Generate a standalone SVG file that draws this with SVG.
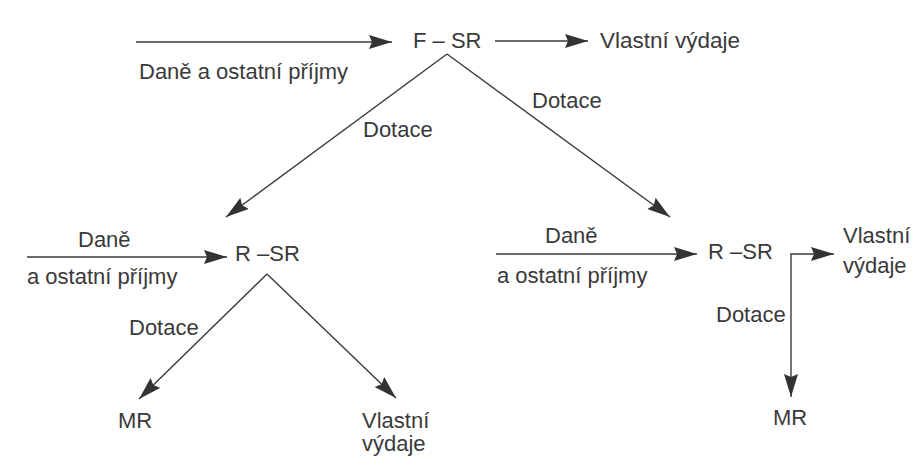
<svg xmlns="http://www.w3.org/2000/svg" width="916" height="457" viewBox="0 0 916 457">
  <defs>
    <marker id="arr" markerUnits="userSpaceOnUse" markerWidth="26" markerHeight="16" refX="23" refY="7" orient="auto">
      <path d="M0,0 L23,7 L0,14 L3,7 Z" fill="#333"/>
    </marker>
    <style>
      text { font-family: "Liberation Sans", Arial, Helvetica, sans-serif; font-size: 22px; fill: #3a3a3a; }
      .c { fill: none; stroke: #3a3a3a; stroke-width: 1.4; marker-end: url(#arr); }
    </style>
  </defs>
  <rect width="916" height="457" fill="#ffffff"/>

  <g id="connectors">
    <line class="c" x1="136" y1="42" x2="392" y2="42"/>
    <line class="c" x1="495" y1="41" x2="588" y2="41"/>
    <line class="c" x1="447" y1="54" x2="226" y2="217"/>
    <line class="c" x1="447" y1="54" x2="670" y2="217"/>
    <line class="c" x1="27" y1="257" x2="227" y2="257"/>
    <line class="c" x1="267" y1="274" x2="139" y2="399"/>
    <line class="c" x1="267" y1="274" x2="396" y2="398"/>
    <line class="c" x1="496" y1="254" x2="697" y2="254"/>
    <line class="c" x1="791" y1="254" x2="791" y2="397"/>
    <line class="c" x1="790.3" y1="254" x2="834" y2="254"/>
    <text x="139" y="79">Daně a ostatní příjmy</text>
    <text x="363" y="137">Dotace</text>
    <text x="532" y="108">Dotace</text>
    <text x="78" y="247">Daně</text>
    <text x="27" y="284">a ostatní příjmy</text>
    <text x="129" y="335">Dotace</text>
    <text x="545" y="243">Daně</text>
    <text x="497" y="283">a ostatní příjmy</text>
    <text x="716" y="322">Dotace</text>
  </g>

  <g id="node-fsr"><text x="413" y="48">F – SR</text></g>
  <g id="node-fsr-vydaje"><text x="600" y="48" textLength="140" lengthAdjust="spacingAndGlyphs">Vlastní výdaje</text></g>
  <g id="node-rsr-left"><text x="235" y="261">R –SR</text></g>
  <g id="node-mr-left"><text x="118" y="428">MR</text></g>
  <g id="node-vydaje-left"><text x="362" y="428">Vlastní</text><text x="362" y="451">výdaje</text></g>
  <g id="node-rsr-right"><text x="708" y="259">R –SR</text></g>
  <g id="node-vydaje-right"><text x="843" y="243">Vlastní</text><text x="843" y="273">výdaje</text></g>
  <g id="node-mr-right"><text x="773" y="425">MR</text></g>
</svg>
